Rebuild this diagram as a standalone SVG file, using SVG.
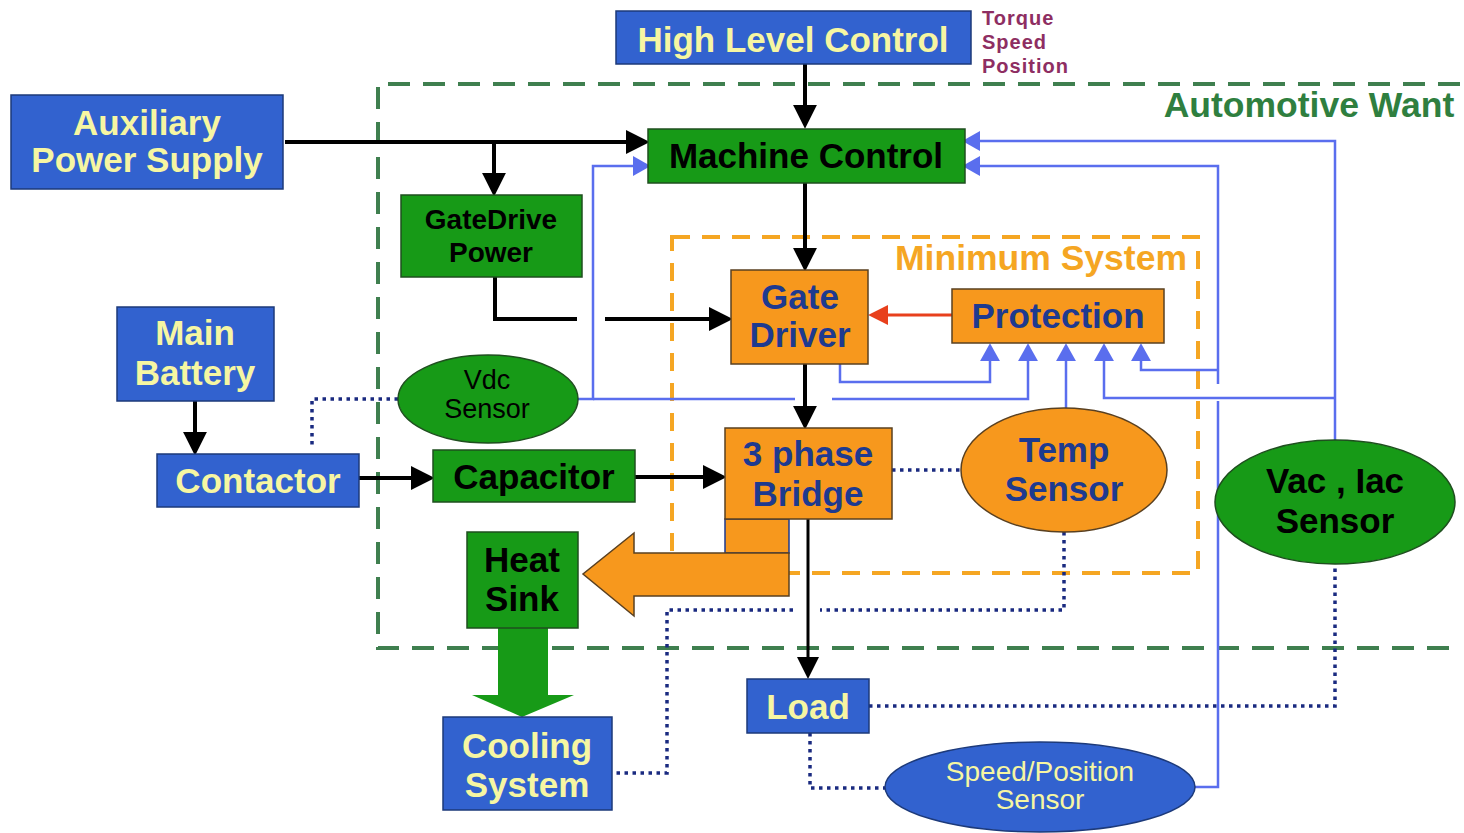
<svg xmlns="http://www.w3.org/2000/svg" width="1464" height="833" viewBox="0 0 1464 833">
<style>
.blue{fill:#3262CF;stroke:#1D3A7A;stroke-width:1.5}
.green{fill:#179A17;stroke:#1F4F1F;stroke-width:1.5}
.orange{fill:#F7981D;stroke:#5A4020;stroke-width:1.5}
.t{font-family:"Liberation Sans",Arial,sans-serif;font-weight:bold;font-size:35px;text-anchor:middle}
.r{font-family:"Liberation Sans",Arial,sans-serif;font-size:27px;text-anchor:middle}
.ty{fill:#F6F6A2}
.tk{fill:#000}
.tb{fill:#1E3A8F}
.blk{fill:none;stroke:#000;stroke-width:4}
.bl{fill:none;stroke:#5A6EEE;stroke-width:2.5}
.dot{fill:none;stroke:#1A2A80;stroke-width:3.5;stroke-dasharray:3.5 4.5}
</style>
<defs>
<marker id="ah" markerUnits="userSpaceOnUse" markerWidth="24" markerHeight="24" viewBox="0 0 22 22" refX="2" refY="11" orient="auto"><path d="M0,0 L22,11 L0,22 z" fill="#000"/></marker>
<marker id="ab" markerUnits="userSpaceOnUse" markerWidth="18" markerHeight="20" viewBox="0 0 16 18" refX="1" refY="9" orient="auto"><path d="M0,0 L16,9 L0,18 z" fill="#5A6EEE"/></marker>
<marker id="ar" markerUnits="userSpaceOnUse" markerWidth="20" markerHeight="20" viewBox="0 0 18 18" refX="1" refY="9" orient="auto"><path d="M0,0 L18,9 L0,18 z" fill="#E8401C"/></marker>
</defs>
<rect width="1464" height="833" fill="#fff"/>

<g id="boundaries">
<path d="M1460,84 H378 V648 H1460" fill="none" stroke="#3F7F4F" stroke-width="4" stroke-dasharray="22 13"/>
<rect x="672" y="237" width="526" height="336" fill="none" stroke="#F5A623" stroke-width="4" stroke-dasharray="18 12"/>
<text class="t" x="1309" y="117" style="fill:#2F7F3F;font-size:35.5px">Automotive Want</text>
<text class="t" x="1041" y="270" style="fill:#F5A623;font-size:35.5px">Minimum System</text>
<text x="982" y="25" style="font-family:'Liberation Sans',Arial,sans-serif;font-weight:bold;font-size:20px;fill:#8E2E62;letter-spacing:1px">Torque</text>
<text x="982" y="49" style="font-family:'Liberation Sans',Arial,sans-serif;font-weight:bold;font-size:20px;fill:#8E2E62;letter-spacing:1px">Speed</text>
<text x="982" y="73" style="font-family:'Liberation Sans',Arial,sans-serif;font-weight:bold;font-size:20px;fill:#8E2E62;letter-spacing:1px">Position</text>
</g>

<g id="connectors">
<path class="blk" d="M805,64 V107" marker-end="url(#ah)"/>
<path class="blk" d="M285,142 H628" marker-end="url(#ah)"/>
<path class="blk" d="M494,142 V175" marker-end="url(#ah)"/>
<path class="blk" d="M495,277 V319 H577"/>
<path class="blk" d="M605,319 H711" marker-end="url(#ah)"/>
<path class="blk" d="M805,183 V250" marker-end="url(#ah)"/>
<path class="blk" d="M805,364 V408" marker-end="url(#ah)"/>
<path class="blk" d="M195,401 V434" marker-end="url(#ah)"/>
<path class="blk" d="M359,478 H413" marker-end="url(#ah)"/>
<path class="blk" d="M635,477 H705" marker-end="url(#ah)"/>
<path class="blk" d="M808,519 V659" style="stroke-width:3"/>
<path d="M797,657 L819,657 L808,679 z" fill="#000"/>
<path d="M952,315 H887" fill="none" stroke="#E8401C" stroke-width="3" marker-end="url(#ar)"/>
<path class="bl" d="M578,399 H593 V166 H634" marker-end="url(#ab)"/>
<path class="bl" d="M593,399 H795"/>
<path class="bl" d="M832,399 H1028 V360" marker-end="url(#ab)"/>
<path class="bl" d="M840,364 V382 H990 V360" marker-end="url(#ab)"/>
<path class="bl" d="M1066,408 V360" marker-end="url(#ab)"/>
<path class="bl" d="M1335,440 V141 H979" marker-end="url(#ab)"/>
<path class="bl" d="M1335,398 H1104 V360" marker-end="url(#ab)"/>
<path class="bl" d="M1195,787 H1218 V401"/>
<path class="bl" d="M1218,384 V166 H979" marker-end="url(#ab)"/>
<path class="bl" d="M1218,370 H1141 V360" marker-end="url(#ab)"/>
<path class="dot" d="M398,399 H312 V446"/>
<path class="dot" d="M892,470 H961"/>
<path class="dot" d="M1064,532 V610 H820"/>
<path class="dot" d="M793,610 H667 V773 H612"/>
<path class="dot" d="M869,706 H1335 V564"/>
<path class="dot" d="M810,733 V788 H885"/>
<rect x="725" y="519" width="64" height="34" fill="#F7981D" stroke="#1E3A8F" stroke-width="1.5"/>
<path d="M789,553 V596 H634 V616 L583,574 L634,533 V553 z" fill="#F7981D" stroke="#5A4020" stroke-width="1.5"/>
<path d="M498,628 H548 V695 H574 L522,717 L472,695 H498 z" fill="#179A17"/>
</g>

<g id="high-level-control"><rect class="blue" x="616" y="11" width="355" height="53"/><text class="t ty" x="793" y="52">High Level Control</text></g>
<g id="machine-control"><rect class="green" x="648" y="129" width="317" height="54"/><text class="t tk" x="806" y="168">Machine Control</text></g>
<g id="aux-power"><rect class="blue" x="11" y="95" width="272" height="94"/><text class="t ty" x="147" y="135">Auxiliary</text><text class="t ty" x="147" y="172">Power Supply</text></g>
<g id="gatedrive-power"><rect class="green" x="401" y="195" width="181" height="82"/><text class="t tk" x="491" y="229" style="font-size:28px">GateDrive</text><text class="t tk" x="491" y="262" style="font-size:28px">Power</text></g>
<g id="gate-driver"><rect class="orange" x="731" y="270" width="137" height="94"/><text class="t tb" x="800" y="309">Gate</text><text class="t tb" x="800" y="347">Driver</text></g>
<g id="protection"><rect class="orange" x="952" y="289" width="212" height="54"/><text class="t tb" x="1058" y="328">Protection</text></g>
<g id="main-battery"><rect class="blue" x="117" y="307" width="157" height="94"/><text class="t ty" x="195" y="345">Main</text><text class="t ty" x="195" y="385">Battery</text></g>
<g id="contactor"><rect class="blue" x="157" y="454" width="202" height="53"/><text class="t ty" x="258" y="493">Contactor</text></g>
<g id="vdc-sensor"><ellipse class="green" cx="488" cy="399" rx="90" ry="44"/><text class="r tk" x="487" y="389">Vdc</text><text class="r tk" x="487" y="418">Sensor</text></g>
<g id="capacitor"><rect class="green" x="433" y="450" width="202" height="52"/><text class="t tk" x="534" y="489">Capacitor</text></g>
<g id="bridge"><rect class="orange" x="725" y="428" width="167" height="91"/><text class="t tb" x="808" y="466">3 phase</text><text class="t tb" x="808" y="506">Bridge</text></g>
<g id="temp-sensor"><ellipse class="orange" cx="1064" cy="470" rx="103" ry="62"/><text class="t tb" x="1064" y="462">Temp</text><text class="t tb" x="1064" y="501">Sensor</text></g>
<g id="vac-iac-sensor"><ellipse class="green" cx="1335" cy="502" rx="120" ry="62"/><text class="t tk" x="1335" y="493">Vac , Iac</text><text class="t tk" x="1335" y="533">Sensor</text></g>
<g id="heat-sink"><rect class="green" x="467" y="532" width="111" height="96"/><text class="t tk" x="522" y="572">Heat</text><text class="t tk" x="522" y="611">Sink</text></g>
<g id="cooling-system"><rect class="blue" x="443" y="717" width="169" height="93"/><text class="t ty" x="527" y="758">Cooling</text><text class="t ty" x="527" y="797">System</text></g>
<g id="load"><rect class="blue" x="747" y="679" width="122" height="54"/><text class="t ty" x="808" y="719">Load</text></g>
<g id="speed-position-sensor"><ellipse class="blue" cx="1040" cy="787" rx="155" ry="45"/><text class="r ty" x="1040" y="781" style="font-size:28px">Speed/Position</text><text class="r ty" x="1040" y="809" style="font-size:28px">Sensor</text></g>
</svg>
